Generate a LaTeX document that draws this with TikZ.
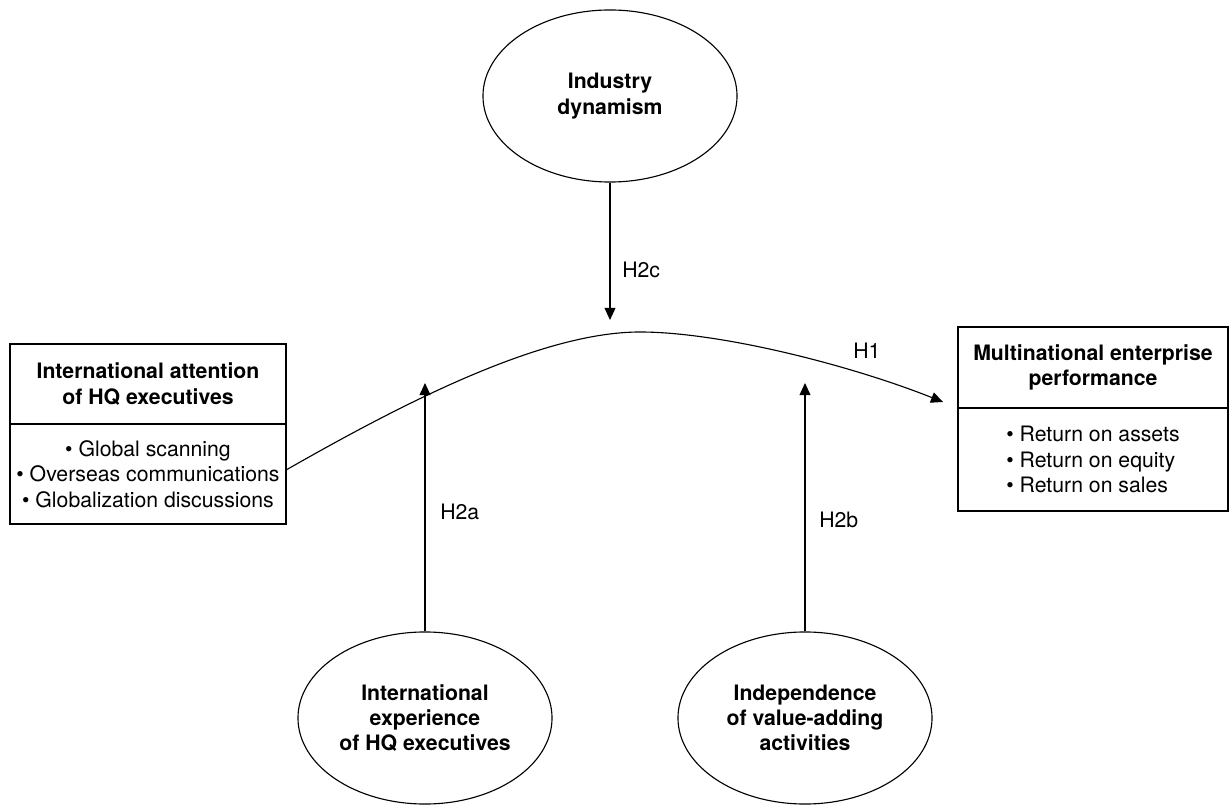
\documentclass[tikz,border=0pt]{standalone}
\usepackage{fontspec}
\setmainfont{TeX Gyre Heros}
\usepackage{tikz}
\usetikzlibrary{arrows.meta,positioning,shapes.geometric}
\newcommand{\bodyfont}{\fontsize{15.1}{18}\selectfont}

\begin{document}
\begin{tikzpicture}[
    x=0.025cm, y=-0.025cm,
    every node/.style={font=\bodyfont},
    construct/.style={ellipse, draw, line width=0.8pt, minimum width=6.35cm, minimum height=4.3cm, inner sep=0pt, align=center, font=\bodyfont\bfseries},
    headbox/.style={rectangle, draw, line width=0.8pt, outer sep=0pt, align=center, font=\bodyfont\bfseries},
    listbox/.style={rectangle, draw, line width=0.8pt, outer sep=0pt, align=center},
    arrow/.style={-{Triangle[length=3mm,width=2.7mm]}, line width=0.8pt},
    hyp/.style={anchor=west, inner sep=0pt}
  ]
    \useasboundingbox (0,0) rectangle (1231,806);

    \node[construct] (dyn) at (610,96) {Industry\\dynamism};
    \node[construct] (exper) at (425,718) {International\\experience\\of HQ executives};
    \node[construct] (indep) at (805,718) {Independence\\of value-adding\\activities};

    \node[headbox, minimum width=6.9cm, minimum height=2cm] (attn) at (148,384) {International attention\\of HQ executives};
    \node[listbox, below=0pt of attn, minimum width=6.9cm, minimum height=2.5cm] (attnlist) {\textbullet\ Global scanning\\\textbullet\ Overseas communications\\\textbullet\ Globalization discussions};

    \node[headbox, minimum width=6.75cm, minimum height=2.025cm] (perf) at (1093,367.5) {Multinational enterprise\\performance};
    \node[listbox, below=0pt of perf, align=left, minimum width=6.75cm, minimum height=2.575cm] (perflist) {\textbullet\ Return on assets\\\textbullet\ Return on equity\\\textbullet\ Return on sales};

    % free ends of the connectors
    \coordinate (h1start) at ([yshift=0.1cm]attnlist.east);
    \coordinate (h1top) at (640,332);
    \coordinate (h1end) at (943,402);
    \coordinate (h2ctip) at (610,320);
    \coordinate (h2atip) at (425,383);
    \coordinate (h2btip) at (805,383);

    \draw[arrow] (h1start) .. controls (400,405) and (540,332) .. (h1top)
                 .. controls (720,332) and (850,365) .. (h1end);
    \draw[arrow] (dyn.south) -- (h2ctip);
    \draw[arrow] (exper.north) -- (h2atip);
    \draw[arrow] (indep.north) -- (h2btip);

    \node[hyp] (h1) at (853,351) {H1};
    \node[hyp] (h2c) at (622,270) {H2c};
    \node[hyp] (h2a) at (440,512) {H2a};
    \node[hyp] (h2b) at (819,520) {H2b};

  \end{tikzpicture}
\end{document}
